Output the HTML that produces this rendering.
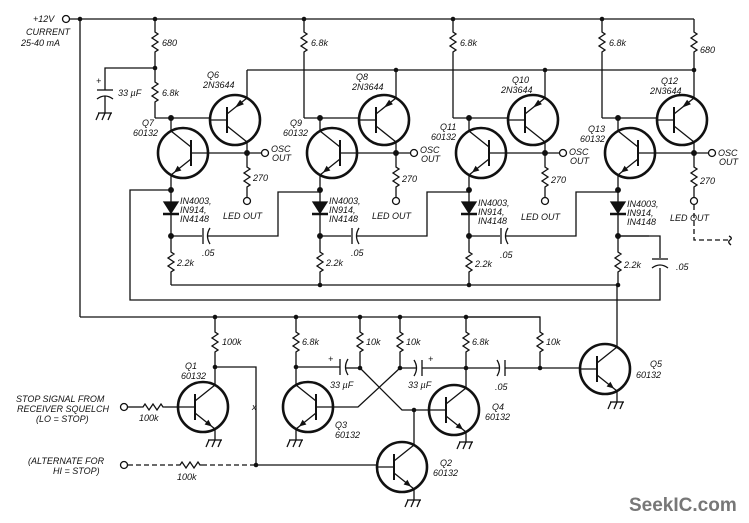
<!DOCTYPE html>
<html><head><meta charset="utf-8"><style>
html,body{margin:0;padding:0;background:#fff}
svg{display:block}
text{font-family:"Liberation Sans",sans-serif;font-style:italic;font-size:9px;fill:#111}
</style></head><body>
<svg width="749" height="523" viewBox="0 0 749 523" xmlns="http://www.w3.org/2000/svg">
<defs>
<g id="npn" fill="none" stroke="#111" stroke-width="1.3">
<circle r="25" stroke-width="2.6"/>
<line x1="-25" y1="0" x2="-8" y2="0"/>
<line x1="-8" y1="-13" x2="-8" y2="13" stroke-width="2"/>
<line x1="-8" y1="-6" x2="12" y2="-22"/>
<line x1="-8" y1="6" x2="12" y2="22"/>
<polygon points="9,19.5 1.6,17.5 5.4,12.8" fill="#111" stroke="none"/>
</g>
<g id="pnp" fill="none" stroke="#111" stroke-width="1.3">
<circle r="25" stroke-width="2.6"/>
<line x1="-25" y1="0" x2="-8" y2="0"/>
<line x1="-8" y1="-13" x2="-8" y2="13" stroke-width="2"/>
<line x1="-8" y1="-6" x2="12" y2="-22"/>
<line x1="-8" y1="6" x2="12" y2="22"/>
<polygon points="0,-12.4 8.9,-15.7 5.1,-20.3" fill="#111" stroke="none"/>
</g>
<path id="rv" d="M0 0 L0 2 L3 4 L-3 8 L3 12 L-3 16 L3 20 L0 22 L0 24" fill="none" stroke="#111" stroke-width="1.3"/>
<path id="rh" d="M0 0 L2 0 L4 -3 L8 3 L12 -3 L16 3 L20 -3 L22 0 L24 0" fill="none" stroke="#111" stroke-width="1.3"/>
<g id="gnd" stroke="#111" stroke-width="1.3"><line x1="-7" y1="0" x2="7" y2="0"/><line x1="-6" y1="0" x2="-9" y2="7"/><line x1="0" y1="0" x2="-3" y2="7"/><line x1="6" y1="0" x2="3" y2="7"/></g>
<g id="stage" stroke="#111" stroke-width="1.3" fill="none">
<use href="#npn" transform="translate(183,153) scale(-1,1)"/>
<use href="#pnp" transform="translate(235,120)"/>
<line x1="171" y1="131" x2="171" y2="118"/>
<line x1="155" y1="118" x2="210" y2="118"/>
<line x1="247" y1="98" x2="247" y2="70"/>
<line x1="247" y1="142" x2="247" y2="153"/>
<line x1="208" y1="153" x2="261" y2="153"/>
<circle cx="265" cy="153" r="3.5"/>
<line x1="247" y1="153" x2="247" y2="165"/>
<use href="#rv" x="247" y="165"/>
<line x1="247" y1="189" x2="247" y2="197"/>
<circle cx="247" cy="201" r="3.5"/>
<line x1="171" y1="175" x2="171" y2="202"/>
<polygon points="164,202 178,202 171,213" fill="#111"/>
<line x1="163" y1="214" x2="179" y2="214" stroke-width="2.5"/>
<line x1="171" y1="214" x2="171" y2="250"/>
<use href="#rv" x="171" y="250"/>
<line x1="171" y1="274" x2="171" y2="285"/>
<line x1="171" y1="236" x2="202" y2="236"/>
<circle cx="171" cy="190" r="2.3" fill="#111"/>
<circle cx="171" cy="236" r="2.3" fill="#111"/>
<circle cx="171" cy="118" r="2.3" fill="#111"/>
<circle cx="247" cy="153" r="2.3" fill="#111"/>
</g>
<g id="capmid" stroke="#111" stroke-width="1.3" fill="none">
<line x1="203" y1="228" x2="203" y2="244"/>
<path d="M210 228 Q205 236 210 244"/>
<polyline points="207,236 278,236 278,192 320,192"/>
</g>
</defs>

<g stroke="#111" stroke-width="1.3" fill="none">
<circle cx="66" cy="19" r="3.5"/>
<line x1="70" y1="19" x2="694" y2="19"/>
<line x1="80" y1="19" x2="80" y2="317"/>
<line x1="80" y1="317" x2="540" y2="317"/>
<line x1="247" y1="70" x2="694" y2="70"/>
<line x1="171" y1="285" x2="617" y2="285"/>
<polyline points="171,190 130,190 130,300 660,300 660,268"/>
<line x1="155" y1="19" x2="155" y2="30"/><use href="#rv" x="155" y="30"/>
<line x1="155" y1="54" x2="155" y2="80"/><use href="#rv" x="155" y="80"/>
<line x1="155" y1="104" x2="155" y2="118"/>
<polyline points="155,68 105,68 105,90"/>
<line x1="97" y1="90" x2="113" y2="90"/>
<path d="M97 99 Q105 93 113 99"/>
<line x1="105" y1="96" x2="105" y2="113"/>
<use href="#gnd" x="105" y="113"/>
<line x1="304" y1="19" x2="304" y2="30"/><use href="#rv" x="304" y="30"/><line x1="304" y1="54" x2="304" y2="118"/>
<line x1="453" y1="19" x2="453" y2="30"/><use href="#rv" x="453" y="30"/><line x1="453" y1="54" x2="453" y2="118"/>
<line x1="602" y1="19" x2="602" y2="30"/><use href="#rv" x="602" y="30"/><line x1="602" y1="54" x2="602" y2="118"/>
<line x1="694" y1="19" x2="694" y2="30"/><use href="#rv" x="694" y="30"/><line x1="694" y1="54" x2="694" y2="70"/>
<polyline points="617,236 660,236 660,258"/>
<line x1="652" y1="259" x2="668" y2="259"/>
<path d="M652 268 Q660 262 668 268"/>
<polyline points="694,205 694,240 728,240" stroke-dasharray="5,3"/>
<path d="M729 236 Q733 238 730 240 Q727 242 731 245"/>
</g>
<use href="#stage"/>
<use href="#stage" x="149"/>
<use href="#stage" x="298"/>
<use href="#stage" x="447"/>
<use href="#capmid"/>
<use href="#capmid" x="149"/>
<use href="#capmid" x="298"/>
<g fill="#111">
<circle cx="80" cy="19" r="2.3"/><circle cx="155" cy="19" r="2.3"/><circle cx="304" cy="19" r="2.3"/><circle cx="453" cy="19" r="2.3"/><circle cx="602" cy="19" r="2.3"/>
<circle cx="155" cy="68" r="2.3"/><circle cx="396" cy="70" r="2.3"/><circle cx="545" cy="70" r="2.3"/><circle cx="694" cy="70" r="2.3"/>
<circle cx="320" cy="285" r="2.3"/><circle cx="469" cy="285" r="2.3"/><circle cx="618" cy="285" r="2.3"/>
<circle cx="215" cy="317" r="2.3"/><circle cx="296" cy="317" r="2.3"/><circle cx="360" cy="317" r="2.3"/><circle cx="400" cy="317" r="2.3"/><circle cx="466" cy="317" r="2.3"/>
<circle cx="215" cy="367" r="2.3"/><circle cx="296" cy="367" r="2.3"/><circle cx="360" cy="368" r="2.3"/><circle cx="400" cy="368" r="2.3"/><circle cx="466" cy="368" r="2.3"/><circle cx="540" cy="368" r="2.3"/>
<circle cx="414" cy="410" r="2.3"/><circle cx="256" cy="465" r="2.3"/>
</g>

<g stroke="#111" stroke-width="1.3" fill="none">
<use href="#npn" transform="translate(203,407)"/>
<use href="#npn" transform="translate(308,407) scale(-1,1)"/>
<use href="#npn" transform="translate(454,410)"/>
<use href="#npn" transform="translate(402,467)"/>
<use href="#npn" transform="translate(605,369)"/>
<line x1="215" y1="317" x2="215" y2="330"/><use href="#rv" x="215" y="330"/><line x1="215" y1="354" x2="215" y2="385"/>
<polyline points="215,367 256,367 256,465"/>
<line x1="215" y1="429" x2="215" y2="440"/><use href="#gnd" x="215" y="440"/>
<line x1="178" y1="407" x2="165" y2="407"/><use href="#rh" x="141" y="407"/><line x1="141" y1="407" x2="128" y2="407"/>
<circle cx="124" cy="407" r="3.5"/>
<circle cx="124" cy="465" r="3.5"/>
<line x1="128" y1="465" x2="178" y2="465" stroke-dasharray="5,3"/>
<use href="#rh" x="178" y="465"/>
<line x1="202" y1="465" x2="256" y2="465" stroke-dasharray="5,3"/>
<line x1="256" y1="465" x2="377" y2="465"/>
<line x1="296" y1="317" x2="296" y2="330"/><use href="#rv" x="296" y="330"/><line x1="296" y1="354" x2="296" y2="385"/>
<line x1="296" y1="429" x2="296" y2="440"/><use href="#gnd" x="296" y="440"/>
<line x1="360" y1="317" x2="360" y2="330"/><use href="#rv" x="360" y="330"/><line x1="360" y1="354" x2="360" y2="368"/>
<line x1="400" y1="317" x2="400" y2="330"/><use href="#rv" x="400" y="330"/><line x1="400" y1="354" x2="400" y2="368"/>
<line x1="466" y1="317" x2="466" y2="330"/><use href="#rv" x="466" y="330"/><line x1="466" y1="354" x2="466" y2="388"/>
<polyline points="466,317 540,317 540,330"/><use href="#rv" x="540" y="330"/><line x1="540" y1="354" x2="540" y2="368"/>
<line x1="296" y1="367" x2="340" y2="367"/><line x1="340" y1="359" x2="340" y2="375"/><path d="M348 359 Q343 367 348 375"/><line x1="345" y1="368" x2="360" y2="368"/>
<line x1="400" y1="368" x2="417" y2="368"/><path d="M414 360 Q419 368 414 376"/><line x1="422" y1="360" x2="422" y2="376"/><line x1="422" y1="368" x2="466" y2="368"/>
<line x1="466" y1="368" x2="500" y2="368"/><path d="M497 360 Q502 368 497 376"/><line x1="505" y1="360" x2="505" y2="376"/><line x1="505" y1="368" x2="580" y2="368"/>
<polyline points="333,407 358,407 400,368"/>
<polyline points="360,368 402,410 429,410"/>
<line x1="414" y1="410" x2="414" y2="445"/>
<line x1="466" y1="432" x2="466" y2="442"/><use href="#gnd" x="466" y="442"/>
<line x1="414" y1="489" x2="414" y2="500"/><use href="#gnd" x="414" y="500"/>
<line x1="617" y1="347" x2="617" y2="285"/>
<line x1="617" y1="391" x2="617" y2="402"/><use href="#gnd" x="617" y="402"/>
</g>

<g>
<text x="33" y="22">+12V</text>
<text x="26" y="35">CURRENT</text>
<text x="21" y="46">25-40 mA</text>
<text x="162" y="46">680</text><text x="162" y="96">6.8k</text>
<text x="96" y="84">+</text><text x="118" y="96">33 µF</text>
<text x="311" y="46">6.8k</text><text x="460" y="46">6.8k</text><text x="609" y="46">6.8k</text><text x="700" y="53">680</text>
<text x="142" y="126">Q7</text><text x="133" y="136">60132</text>
<text x="290" y="126">Q9</text><text x="283" y="136">60132</text>
<text x="440" y="130">Q11</text><text x="431" y="140">60132</text>
<text x="588" y="132">Q13</text><text x="580" y="142">60132</text>
<text x="207" y="78">Q6</text><text x="203" y="88">2N3644</text>
<text x="356" y="80">Q8</text><text x="352" y="90">2N3644</text>
<text x="512" y="83">Q10</text><text x="501" y="93">2N3644</text>
<text x="661" y="84">Q12</text><text x="650" y="94">2N3644</text>
<text x="180" y="204">IN4003,</text><text x="180" y="213">IN914,</text><text x="180" y="222">IN4148</text>
<text x="329" y="204">IN4003,</text><text x="329" y="213">IN914,</text><text x="329" y="222">IN4148</text>
<text x="478" y="206">IN4003,</text><text x="478" y="215">IN914,</text><text x="478" y="224">IN4148</text>
<text x="627" y="207">IN4003,</text><text x="627" y="216">IN914,</text><text x="627" y="225">IN4148</text>
<text x="177" y="266">2.2k</text><text x="326" y="266">2.2k</text><text x="475" y="267">2.2k</text><text x="624" y="268">2.2k</text>
<text x="202" y="256">.05</text><text x="351" y="256">.05</text><text x="500" y="258">.05</text><text x="676" y="270">.05</text>
<text x="253" y="181">270</text><text x="402" y="182">270</text><text x="551" y="183">270</text><text x="700" y="184">270</text>
<text x="223" y="219">LED OUT</text><text x="372" y="219">LED OUT</text><text x="521" y="220">LED OUT</text><text x="670" y="221">LED OUT</text>
<text x="271" y="152">OSC</text><text x="272" y="161">OUT</text>
<text x="420" y="153">OSC</text><text x="421" y="162">OUT</text>
<text x="569" y="155">OSC</text><text x="570" y="164">OUT</text>
<text x="718" y="156">OSC</text><text x="719" y="165">OUT</text>
<text x="222" y="345">100k</text>
<text x="185" y="369">Q1</text><text x="181" y="379">60132</text>
<text x="16" y="402">STOP SIGNAL FROM</text>
<text x="17" y="412">RECEIVER SQUELCH</text>
<text x="36" y="422">(LO = STOP)</text>
<text x="139" y="421">100k</text>
<text x="28" y="464">(ALTERNATE FOR</text>
<text x="53" y="474">HI = STOP)</text>
<text x="177" y="480">100k</text>
<text x="252" y="410">x</text>
<text x="302" y="345">6.8k</text><text x="366" y="345">10k</text><text x="406" y="345">10k</text><text x="472" y="345">6.8k</text><text x="546" y="345">10k</text>
<text x="328" y="362">+</text><text x="330" y="388">33 µF</text>
<text x="428" y="362">+</text><text x="408" y="388">33 µF</text>
<text x="495" y="390">.05</text>
<text x="335" y="428">Q3</text><text x="335" y="438">60132</text>
<text x="492" y="410">Q4</text><text x="485" y="420">60132</text>
<text x="440" y="466">Q2</text><text x="433" y="476">60132</text>
<text x="650" y="367">Q5</text><text x="636" y="378">60132</text>
<text x="629" y="511" style="font-style:normal;font-weight:bold;font-size:19px;fill:#777">SeekIC.com</text>
</g>
</svg>
</body></html>
